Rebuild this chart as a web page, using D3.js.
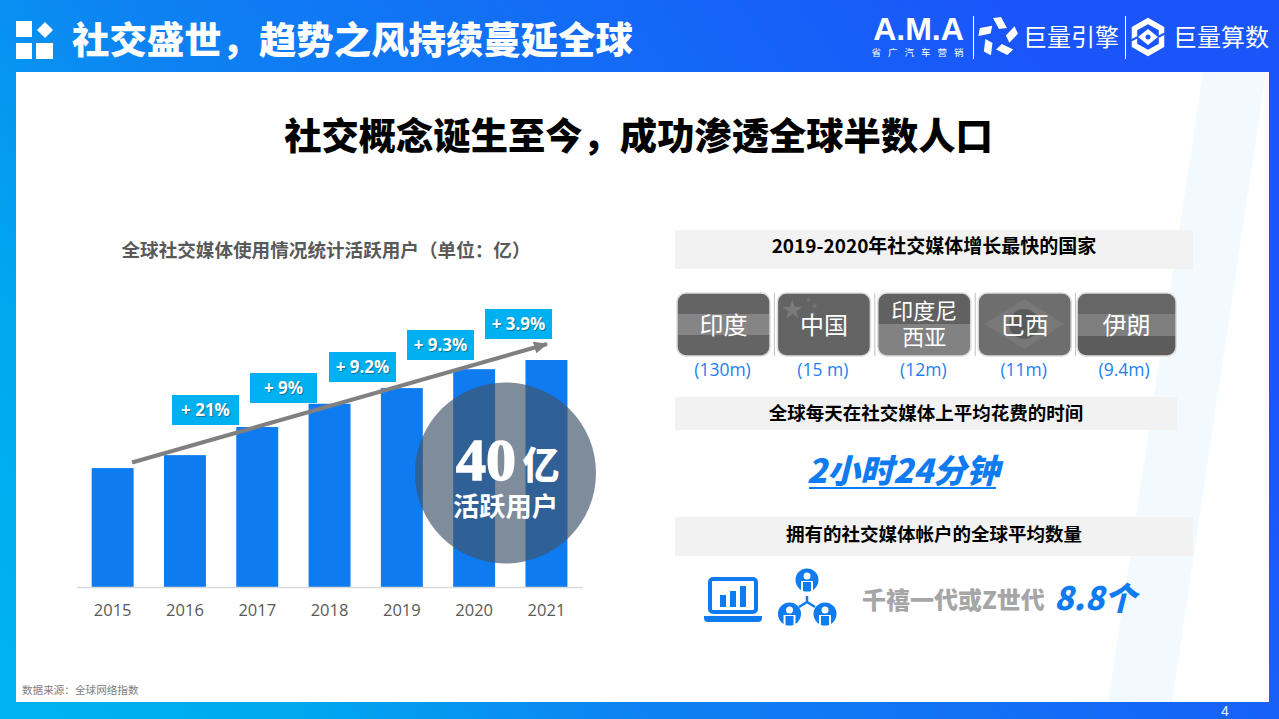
<!DOCTYPE html>
<html>
<head>
<meta charset="utf-8">
<script src="https://cdn.jsdelivr.net/npm/d3@7"></script>
<style>
html, body { margin: 0; padding: 0; background: #fff; overflow: hidden; }
svg { display: block; }
text { font-family: "Noto Sans CJK SC", "Noto Sans", sans-serif; }
</style>
</head>
<body>
<div id="chart"></div>
<script>
// chart values
var years = ["2015", "2016", "2017", "2018", "2019", "2020", "2021"];
var users = [22.0, 24.4, 29.6, 33.9, 36.8, 40.3, 42.0];
var growth = ["+ 21%", "+ 9%", "+ 9.2%", "+ 9.3%", "+ 3.9%"];
var countries = ["印度", "中国", "印度尼\n西亚", "巴西", "伊朗"];
var countryGrowth = ["(130m)", "(15 m)", "(12m)", "(11m)", "(9.4m)"];

// layout of the annotation boxes, left edge / top edge
var growthBoxX = [172, 250, 329, 407, 485];
var growthBoxY = [395, 373, 352, 330, 309];

var BLUE = "#0f7bf1";

var svg = d3.select("#chart").append("svg")
    .attr("width", 1279)
    .attr("height", 719);

var defs = svg.append("defs");
var grad = defs.append("linearGradient")
    .attr("id", "bg")
    .attr("gradientUnits", "userSpaceOnUse")
    .attr("x1", 0).attr("y1", 719)
    .attr("x2", 1000).attr("y2", 0);
grad.selectAll("stop")
    .data([[0, "#00b4f0"], [0.2, "#00a8f0"], [0.42, "#0d82f2"], [1, "#1a55fa"]])
    .enter().append("stop")
    .attr("offset", function(d) { return d[0]; })
    .attr("stop-color", function(d) { return d[1]; });

svg.append("rect").attr("width", 1279).attr("height", 719).attr("fill", "url(#bg)");
svg.append("rect").attr("x", 16).attr("y", 72).attr("width", 1253).attr("height", 630).attr("fill", "#fff");
svg.append("path").attr("d", "M1203,72L1266,72L1172,702L1108,702Z").attr("fill", "#f2faff");

function label(parent, x, y, str, size, color, weight, anchor) {
    return parent.append("text")
        .attr("x", x)
        .attr("y", y)
        .attr("dy", "0.36em")
        .attr("font-size", size)
        .attr("fill", color)
        .attr("font-weight", weight || 400)
        .attr("text-anchor", anchor || "middle")
        .text(str);
}

draw_header();
draw_bars();
draw_countries();
draw_stats();

function draw_header() {
    // logo blocks in the corner
    var logo = svg.append("g").attr("fill", "#fff");
    logo.append("rect").attr("x", 16).attr("y", 21).attr("width", 16).attr("height", 16);
    logo.append("rect").attr("x", 16).attr("y", 43).attr("width", 16).attr("height", 16);
    logo.append("rect").attr("x", 36).attr("y", 43).attr("width", 17).attr("height", 16);
    logo.append("path").attr("d", "M45,22L53,30L45,38L37,30Z");

    label(svg, 72, 41, "社交盛世，趋势之风持续蔓延全球", 37.4, "#fff", 900, "start");

    // brand marks on the right
    label(svg, 918.5, 28, "A.M.A", 32, "#fff", 700).style("font-family", "Liberation Sans");
    label(svg, 918, 53, "省广汽车营销", 9.5, "#fff", 400).attr("letter-spacing", 7).attr("dx", 3);
    svg.append("rect").attr("x", 973).attr("y", 16).attr("width", 1).attr("height", 43).attr("fill", "#fff");
    svg.append("rect").attr("x", 1125).attr("y", 16).attr("width", 1).attr("height", 43).attr("fill", "#fff");

    var wheel = svg.append("g").attr("transform", "translate(998,37)").attr("fill", "#fff");
    [0, 72, 144, 216, 288].forEach(function(a) {
        wheel.append("path")
            .attr("d", "M-5,-19L3,-20L9,-9L1,-8Z")
            .attr("transform", "rotate(" + a + ")");
    });
    label(svg, 1071, 37, "巨量引擎", 24, "#fff", 400);

    var hex = svg.append("g").attr("transform", "translate(1148,37)");
    hex.append("path")
        .attr("d", "M0,-16L13.5,-8.5L13.5,8.5L0,16L-13.5,8.5L-13.5,-8.5Z")
        .attr("fill", "none").attr("stroke", "#fff").attr("stroke-width", 5.5);
    // slits that break the ring in two
    hex.append("path").attr("d", "M-18,4L-10,0M18,-4L10,0")
        .attr("stroke", "#1a5cf9").attr("stroke-width", 2);
    hex.append("path").attr("d", "M0,-8L10,0L0,8L-10,0Z").attr("fill", "#fff");
    hex.append("circle").attr("r", 2.5).attr("fill", "#1a55fa");
    label(svg, 1221, 37, "巨量算数", 24, "#fff", 400);

    label(svg, 638.5, 137, "社交概念诞生至今，成功渗透全球半数人口", 37.3, "#000", 900);
    label(svg, 326, 250, "全球社交媒体使用情况统计活跃用户（单位：亿）", 18.6, "#595959", 700);
    label(svg, 22, 690, "数据来源：全球网络指数", 10.6, "#808080", 400, "start");
    label(svg, 1225, 711, "4", 14, "#e8f4ff", 400).style("font-family", "Liberation Sans");
}

function draw_bars() {
    var x = d3.scaleBand().domain(years).range([76.5, 582.6]).paddingInner(0.42).paddingOuter(0.21);
    var y = d3.scaleLinear().domain([0, 42]).range([587, 360]);

    svg.append("g").selectAll("rect")
        .data(years)
        .enter().append("rect")
        .attr("x", function(d) { return x(d); })
        .attr("y", function(d, i) { return y(users[i]); })
        .attr("width", x.bandwidth())
        .attr("height", function(d, i) { return y(0) - y(users[i]); })
        .attr("fill", BLUE);

    var axis = svg.append("g")
        .attr("transform", "translate(0,587)")
        .call(d3.axisBottom(x).tickSize(0).tickPadding(17));
    axis.select(".domain").attr("stroke", "#d9d9d9").attr("stroke-width", 1.5);
    axis.selectAll("text")
        .attr("font-size", 16.5)
        .attr("fill", "#595959")
        .style("font-family", "Open Sans");

    // trend arrow
    defs.append("marker")
        .attr("id", "head")
        .attr("markerUnits", "userSpaceOnUse")
        .attr("viewBox", "0 0 14 12")
        .attr("refX", 13).attr("refY", 6)
        .attr("markerWidth", 14).attr("markerHeight", 12)
        .attr("orient", "auto")
        .append("path").attr("d", "M0,0L14,6L0,12Z").attr("fill", "#808080");
    svg.append("line")
        .attr("x1", 132).attr("y1", 462.5)
        .attr("x2", 547).attr("y2", 344)
        .attr("stroke", "#808080").attr("stroke-width", 4)
        .attr("marker-end", "url(#head)");

    var boxes = svg.append("g").selectAll("g")
        .data(growth)
        .enter().append("g")
        .attr("transform", function(d, i) { return "translate(" + growthBoxX[i] + "," + growthBoxY[i] + ")"; });
    boxes.append("rect").attr("width", 67).attr("height", 30).attr("fill", "#00b0f0");
    boxes.append("text")
        .attr("x", 33.5).attr("y", 15).attr("dy", "0.36em")
        .attr("text-anchor", "middle")
        .attr("fill", "#fff")
        .attr("font-size", 17)
        .attr("font-weight", 700)
        .style("font-family", "Open Sans")
        .style("text-shadow", "1px 1px 1px rgba(0,0,0,0.35)")
        .text(function(d) { return d; });

    // the big circle over the last bars
    svg.append("circle")
        .attr("cx", 505.5).attr("cy", 473).attr("r", 90.5)
        .attr("fill", "#3f5269").attr("fill-opacity", 0.667);
    label(svg, 486, 458, "40", 60, "#fff", 700)
        .attr("stroke", "#fff").attr("stroke-width", 1.5)
        .style("font-family", "Liberation Sans Narrow");
    label(svg, 541, 466, "亿", 37, "#fff", 900);
    label(svg, 505.5, 507, "活跃用户", 26.3, "#fff", 700);
}

function draw_countries() {
    grey_bar(675, 230, 518, 39, "2019-2020年社交媒体增长最快的国家", 19, 246);

    var x = d3.scaleBand().domain(countries).range([673, 1175]);

    function flag_width(i) { return i == 4 ? 99 : 93; }

    var flags = svg.append("g").selectAll("g")
        .data(countries)
        .enter().append("g")
        .attr("transform", function(d, i) { return "translate(" + (x(d) + (i == 4 ? 2.5 : 4)) + ",293)"; });

    defs.selectAll("clipPath")
        .data(countries)
        .enter().append("clipPath")
        .attr("id", function(d, i) { return "flag" + i; })
        .append("rect").attr("width", function(d, i) { return flag_width(i); }).attr("height", 63).attr("rx", 9);

    var art = flags.append("g").attr("clip-path", function(d, i) { return "url(#flag" + i + ")"; });
    art.append("rect").attr("width", 99).attr("height", 63).attr("fill", function(d, i) {
        return ["#646464", "#636363", "#828282", "#6e6e6e", "#666666"][i];
    });
    // grey versions of the flags behind the names
    d3.select(art.nodes()[0]).append("rect").attr("y", 21).attr("width", 93).attr("height", 21).attr("fill", "#858585");
    var china = d3.select(art.nodes()[1]);
    china.append("path").attr("d", d3.symbol(d3.symbolStar, 130)()).attr("transform", "translate(15,17)").attr("fill", "#7a7a7a");
    [[31, 7], [37, 13], [36, 21]].forEach(function(p) {
        china.append("path").attr("d", d3.symbol(d3.symbolStar, 14)()).attr("transform", "translate(" + p + ")").attr("fill", "#747474");
    });
    d3.select(art.nodes()[2]).append("rect").attr("width", 93).attr("height", 31).attr("fill", "#616161");
    d3.select(art.nodes()[3]).append("path").attr("d", "M46,6L86,31L46,56L6,31Z").attr("fill", "#787878");
    d3.select(art.nodes()[3]).append("circle").attr("cx", 46).attr("cy", 31).attr("r", 15).attr("fill", "#5a5a5a");
    d3.select(art.nodes()[4]).append("rect").attr("y", 21).attr("width", 99).attr("height", 22).attr("fill", "#7e7e7e");
    d3.select(art.nodes()[4]).append("rect").attr("y", 43).attr("width", 99).attr("height", 20).attr("fill", "#5c5c5c");

    flags.append("rect")
        .attr("width", function(d, i) { return flag_width(i); }).attr("height", 63).attr("rx", 9)
        .attr("fill", "none").attr("stroke", "#dcdcdc").attr("stroke-width", 1.5);

    flags.each(function(d, i) {
        var lines = d.split("\n");
        var g = d3.select(this);
        var mid = flag_width(i) / 2;
        if (lines.length == 1) {
            label(g, mid, 32, lines[0], 24, "#fff", 400);
        } else {
            label(g, mid, 18, lines[0], 22, "#fff", 400);
            label(g, mid, 44, lines[1], 22, "#fff", 400);
        }
    });

    // separators between the flags
    svg.append("g").selectAll("rect")
        .data(countries.slice(1))
        .enter().append("rect")
        .attr("x", function(d) { return x(d) + 0.5; })
        .attr("y", 293).attr("width", 1).attr("height", 63)
        .attr("fill", "#bfbfbf");

    svg.append("g").selectAll("text")
        .data(countryGrowth)
        .enter().append("text")
        .attr("x", function(d, i) { return x(countries[i]) + 49.5; })
        .attr("y", 370).attr("dy", "0.36em")
        .attr("text-anchor", "middle")
        .attr("fill", "#1a7ff0")
        .attr("font-size", 17.5)
        .style("font-family", "Open Sans")
        .text(function(d) { return d; });
}

function draw_stats() {
    grey_bar(675, 397, 502, 33, "全球每天在社交媒体上平均花费的时间", 18.5, 413);
    label(svg, 903, 471, "2小时24分钟", 33, BLUE, 900).style("font-style", "italic");
    svg.append("rect").attr("x", 809).attr("y", 487).attr("width", 187).attr("height", 2).attr("fill", BLUE);

    grey_bar(675, 517, 518, 39, "拥有的社交媒体帐户的全球平均数量", 18.5, 534);

    // laptop icon
    var laptop = svg.append("g").attr("fill", BLUE);
    laptop.append("rect").attr("x", 710).attr("y", 579).attr("width", 46).attr("height", 33).attr("rx", 3)
        .attr("fill", "none").attr("stroke", BLUE).attr("stroke-width", 4);
    laptop.append("path").attr("d", "M704,616H762V618Q762,622 758,622H708Q704,622 704,618Z");
    laptop.append("rect").attr("x", 720).attr("y", 595).attr("width", 6).attr("height", 12);
    laptop.append("rect").attr("x", 730).attr("y", 591).attr("width", 6).attr("height", 16);
    laptop.append("rect").attr("x", 740).attr("y", 586).attr("width", 6).attr("height", 21);

    // people network icon
    var net = svg.append("g");
    net.append("path")
        .attr("d", "M807,596V602M807,602L799,607M807,602L815,607")
        .attr("stroke", BLUE).attr("stroke-width", 2.5).attr("fill", "none");
    [[807, 580], [789.5, 614], [825, 614]].forEach(function(p) {
        net.append("circle").attr("cx", p[0]).attr("cy", p[1]).attr("r", 11.5).attr("fill", BLUE);
        net.append("circle").attr("cx", p[0]).attr("cy", p[1] - 4).attr("r", 3.5).attr("fill", "#fff");
        net.append("path")
            .attr("d", "M" + (p[0] - 6) + "," + (p[1] + 1) + "h12v10h-12z")
            .attr("fill", "#fff");
        net.append("rect").attr("x", p[0] - 4).attr("y", p[1] + 2).attr("width", 8).attr("height", 9).attr("fill", BLUE);
    });

    label(svg, 862, 600, "千禧一代或Z世代", 24, "#a6a6a6", 900, "start");
    label(svg, 1054, 598, "8.8个", 32, BLUE, 900, "start").style("font-style", "italic");
}

function grey_bar(bx, by, w, h, str, size, textY) {
    svg.append("rect").attr("x", bx).attr("y", by).attr("width", w).attr("height", h).attr("fill", "#f2f2f2");
    label(svg, bx + w / 2, textY, str, size, "#000", 700);
}
</script>
</body>
</html>
